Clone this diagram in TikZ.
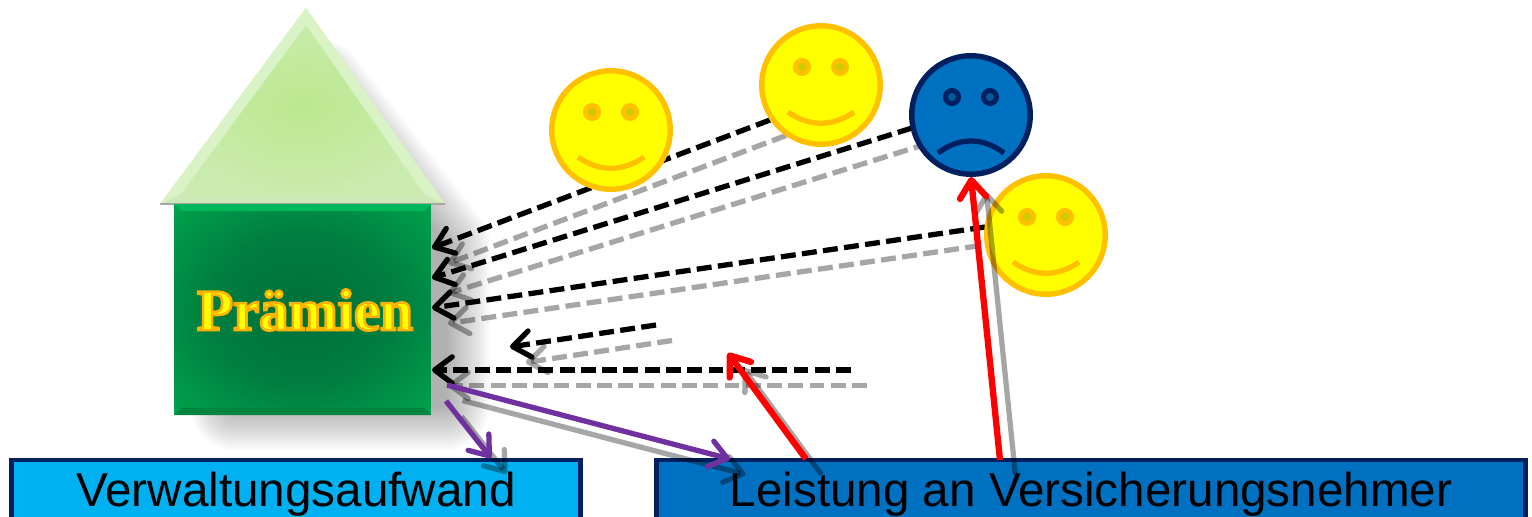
\documentclass[tikz,border=0pt]{standalone}
\usepackage{fontspec}
\usetikzlibrary{arrows.meta}
\setmainfont{Liberation Sans}
\newfontfamily\roofont{Liberation Serif}[BoldFont={Liberation Serif Bold}]
\definecolor{navyline}{HTML}{002060}
\definecolor{lightblue}{HTML}{00B0F0}
\definecolor{midblue}{HTML}{0070C0}
\definecolor{smileline}{HTML}{FFC000}
\definecolor{smilefill}{HTML}{FFFF00}
\definecolor{purplearrow}{HTML}{7030A0}
\definecolor{redarrow}{HTML}{FF0000}
\definecolor{roofmid}{HTML}{BCE88F}
\definecolor{roofout}{HTML}{CBEBB0}
\definecolor{roofedge}{HTML}{D9F3C6}
\definecolor{roofbase}{HTML}{CDE9B6}
\definecolor{wallmid}{HTML}{00703A}
\definecolor{wallout}{HTML}{00A84F}
\definecolor{walltop}{HTML}{00B85A}
\definecolor{wallbase}{HTML}{008540}
\pgfdeclareradialshading{wallglow}{\pgfpointorigin}{color(0bp)=(wallmid); color(18bp)=(wallmid!75!wallout); color(38bp)=(wallout); color(50bp)=(wallout)}
\tikzset{
	headtip/.style = {-{Straight Barb[length=10pt,width=15pt,round]}},
	dashline/.style = {headtip, line width=3pt, dash pattern=on 8.5pt off 3.6pt},
	solidline/.style = {headtip, line width=3pt},
	shadowline/.style = {black, opacity=0.35},
	face/.style = {circle, draw, line width=3.1pt, minimum size=2.37cm, inner sep=0pt},
	smileface/.style = {face, draw=smileline, fill=smilefill},
	sadface/.style = {face, draw=navyline, fill=midblue},
	costbox/.style = {draw=navyline, line width=2.8pt, inner sep=0pt, minimum height=1.36cm, font=\fontsize{27.1}{30}\selectfont}
}
\begin{document}
\begin{tikzpicture} [x=0.02cm, y=-0.02cm]
	\useasboundingbox (0,0) rectangle (1532,517);
	% soft shadow of the house
	\foreach \k in {5,10,...,90} {
		\begin{scope}[transparency group, opacity=0.021]
			\filldraw [black, line width=\k*0.567pt, line join=round] (320,85) -- (445,245) -- (445,405) -- (235,405) -- (235,245) -- cycle;
		\end{scope}
	}
	% roof
	\shade [inner color=roofmid, outer color=roofout] (306,8) -- (445,204) -- (160,204) -- cycle;
	\fill [roofedge] (306,8) -- (445,204) -- (425,195) -- (306,25) -- (180,195) -- (160,204) -- cycle;
	\fill [roofbase] (180,195) -- (425,195) -- (445,204) -- (160,204) -- cycle;
	\draw [black!35, line width=0.8pt] (160,204) -- (445,204);
	% wall
	\node (wall) [minimum width=5.14cm, minimum height=4.22cm, inner sep=0pt, shade, shading=wallglow] at (302.5,309.5) {};
	\fill [walltop] (174,204) -- (431,204) -- (424,211) -- (181,211) -- cycle;
	\fill [wallbase] (174,415) -- (431,415) -- (424,408) -- (181,408) -- cycle;
	\node (premium) [text=smilefill, font=\roofont\bfseries\fontsize{33.5}{36}\selectfont] at (305,310) {\special{pdf:code 2 Tr 1.5 w 1 0.7 0 RG}Prämien\special{pdf:code 0 Tr}};
	% free ends of the connectors
	\coordinate (tipA) at (432,248);
	\coordinate (tipB) at (432,278);
	\coordinate (tipC) at (432,308);
	\coordinate (tipD) at (510,347);
	\coordinate (tipE) at (432,370);
	\coordinate (startD) at (656,325);
	\coordinate (startE) at (851,370);
	\coordinate (startF) at (447,385);
	\coordinate (startG) at (446,401);
	\coordinate (tipH) at (728,353);
	% dashed connectors lie under the faces
	\coordinate (startA) at (770,120);
	\coordinate (startB) at (912,128);
	\coordinate (startC) at (985,227);
	\foreach \from/\to in {startA/tipA, startB/tipB, startC/tipC, startD/tipD, startE/tipE}
		\draw [dashline, shadowline, transform canvas={shift={(0.32cm,-0.31cm)}}] (\from) -- (\to);
	\foreach \from/\to in {startA/tipA, startB/tipB, startC/tipC, startD/tipD, startE/tipE}
		\draw [dashline] (\from) -- (\to);
	% faces
	\foreach \name/\px/\py in {smileA/611/130, smileB/821/85, smileC/1046/235} {
		\begin{scope}[shift={(\px,\py)}]
			\node (\name) [smileface] at (0,0) {};
			\draw [smileline, line width=2.8pt, fill=smilefill!80!black] (-19,-18) circle [radius=6.5] (19,-18) circle [radius=6.5];
			\draw [smileline, line width=3pt] (-33,27) .. controls (-12,42) and (12,42) .. (33,27);
		\end{scope}
	}
	\begin{scope}[shift={(971,115)}]
		\node (sad) [sadface] at (0,0) {};
		\draw [navyline, line width=2.8pt, fill=midblue!80!black] (-19,-18) circle [radius=6.5] (19,-18) circle [radius=6.5];
		\draw [navyline, line width=3pt] (-33,38) .. controls (-12,22) and (12,22) .. (33,38);
	\end{scope}
	% boxes
	\node (admin) [costbox, fill=lightblue, minimum width=11.4cm] at (296,494) {Verwaltungsaufwand};
	\node (benefit) [costbox, fill=midblue, minimum width=17.4cm] at (1091,494) {Leistung an Versicherungsnehmer};
	\coordinate (tipF) at (730,459);
	\coordinate (tipG) at (491,458);
	\coordinate (startH) at (806,459);
	\coordinate (startI) at (1000,460);
	% solid connectors
	\foreach \from/\to in {startF/tipF, startG/tipG, startH/tipH, startI/sad.south}
		\draw [solidline, shadowline, transform canvas={shift={(0.31cm,-0.31cm)}}] (\from) -- (\to);
	\foreach \from/\to in {startF/tipF, startG/tipG}
		\draw [solidline, purplearrow] (\from) -- (\to);
	\foreach \from/\to in {startH/tipH, startI/sad.south}
		\draw [solidline, redarrow, line width=3.6pt] (\from) -- (\to);
\end{tikzpicture}
\end{document}
